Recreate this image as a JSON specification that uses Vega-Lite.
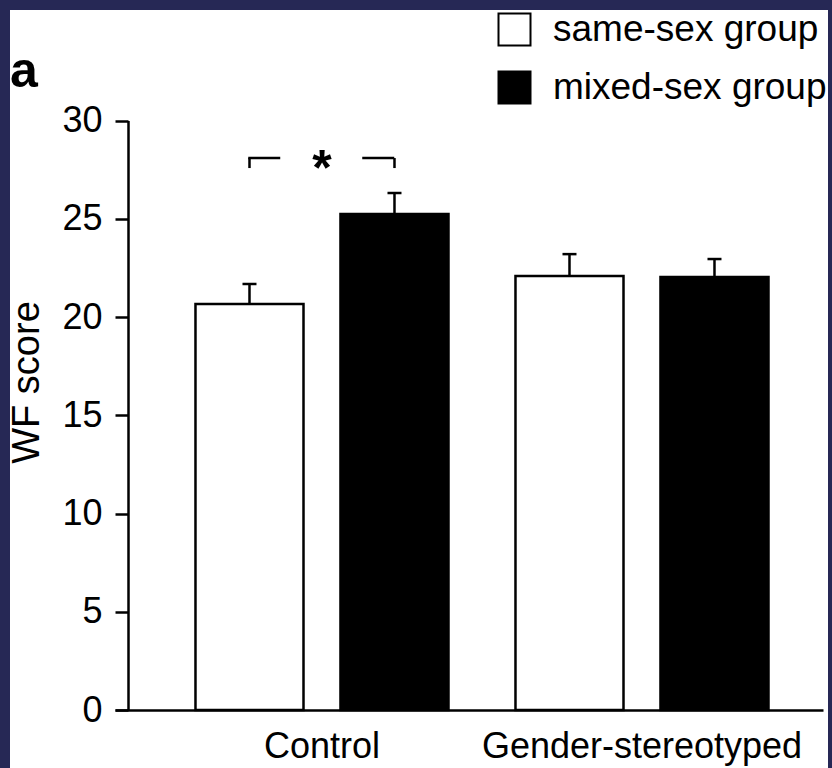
{
  "$schema": "https://vega.github.io/schema/vega-lite/v6.json",
  "width": 818,
  "height": 758,
  "autosize": {"type": "none"},
  "padding": {"left": 10, "top": 10, "right": 4, "bottom": 0},
  "background": "#262855",
  "config": {
    "view": {"fill": "white", "stroke": null},
    "font": "Liberation Sans"
  },
  "title": {
    "text": "a",
    "anchor": "start",
    "frame": "group",
    "fontSize": 50,
    "fontWeight": "bold",
    "color": "black",
    "font": "Liberation Sans",
    "baseline": "alphabetic",
    "offset": 0,
    "dx": 0,
    "dy": 127
  },
  "datasets": {
    "bars": [
      {"condition": "Control", "group": "same-sex group", "mean": 20.66, "upper": 21.68},
      {"condition": "Control", "group": "mixed-sex group", "mean": 25.24, "upper": 26.31},
      {"condition": "Gender-stereotyped", "group": "same-sex group", "mean": 22.09, "upper": 23.2},
      {"condition": "Gender-stereotyped", "group": "mixed-sex group", "mean": 22.04, "upper": 22.95}
    ],
    "bracket": [
      {"condition": "Control", "group": "same-sex group", "side": "L", "top": 28.09, "end": 27.58},
      {"condition": "Control", "group": "mixed-sex group", "side": "R", "top": 28.09, "end": 27.58}
    ],
    "star": [
      {"condition": "Control", "y": 28.09, "label": "*"}
    ]
  },
  "layer": [
    {
      "data": {"name": "bars"},
      "mark": {"type": "bar", "stroke": "black", "strokeWidth": 2.5},
      "encoding": {
        "x": {
          "field": "condition", "type": "nominal",
          "sort": ["Control", "Gender-stereotyped"],
          "scale": {"range": [105, 813], "paddingInner": 0, "paddingOuter": 0.10625, "align": 0.691, "round": false},
          "axis": {
            "title": null, "orient": "bottom", "offset": -58,
            "ticks": false, "tickSize": 0, "labelPadding": 19,
            "labelFontSize": 36, "labelColor": "black", "labelAngle": 0,
            "labelLimit": 0,
            "domainColor": "black", "domainWidth": 2.5, "grid": false
          }
        },
        "xOffset": {
          "field": "group", "type": "nominal",
          "sort": ["same-sex group", "mixed-sex group"],
          "scale": {"paddingInner": 0.255, "paddingOuter": 0.231, "round": false}
        },
        "y": {
          "field": "mean", "type": "quantitative",
          "scale": {"domain": [0, 30], "range": [700, 110.5], "nice": false},
          "axis": {
            "title": "WF score", "offset": -118,
            "values": [0, 5, 10, 15, 20, 25, 30],
            "tickSize": 13, "tickWidth": 2.5, "tickColor": "black",
            "domainWidth": 2.5, "domainColor": "black",
            "labelFontSize": 36, "labelPadding": 13, "labelColor": "black",
            "labelFlush": false, "labelOverlap": false, "grid": false,
            "titleFontSize": 38, "titleFontWeight": "normal", "titleColor": "black",
            "titleX": -90, "titleY": 372, "titleAngle": 270,
            "titleAlign": "center", "titleBaseline": "alphabetic"
          }
        },
        "fill": {
          "field": "group", "type": "nominal",
          "sort": ["same-sex group", "mixed-sex group"],
          "scale": {"domain": ["same-sex group", "mixed-sex group"], "range": ["white", "black"]},
          "legend": {
            "orient": "none", "legendX": 486, "legendY": 1,
            "title": null, "padding": 0,
            "symbolType": "square", "symbolSize": 1024,
            "symbolStrokeColor": "black", "symbolStrokeWidth": 2,
            "labelFontSize": 37, "labelOffset": 20, "labelColor": "black",
            "labelLimit": 0, "rowPadding": 17
          }
        }
      }
    },
    {
      "data": {"name": "bars"},
      "mark": {"type": "rule", "stroke": "black", "strokeWidth": 2.5},
      "encoding": {
        "x": {"field": "condition", "type": "nominal", "sort": ["Control", "Gender-stereotyped"]},
        "xOffset": {"field": "group", "type": "nominal", "sort": ["same-sex group", "mixed-sex group"]},
        "y": {"field": "mean", "type": "quantitative"},
        "y2": {"field": "upper"}
      }
    },
    {
      "data": {"name": "bars"},
      "mark": {"type": "tick", "orient": "horizontal", "size": 14, "thickness": 2.5, "color": "black", "opacity": 1},
      "encoding": {
        "x": {"field": "condition", "type": "nominal", "sort": ["Control", "Gender-stereotyped"]},
        "xOffset": {"field": "group", "type": "nominal", "sort": ["same-sex group", "mixed-sex group"]},
        "y": {"field": "upper", "type": "quantitative"}
      }
    },
    {
      "data": {"name": "bracket"},
      "mark": {"type": "rule", "stroke": "black", "strokeWidth": 2.5},
      "encoding": {
        "x": {"field": "condition", "type": "nominal", "sort": ["Control", "Gender-stereotyped"]},
        "xOffset": {"field": "group", "type": "nominal", "sort": ["same-sex group", "mixed-sex group"]},
        "y": {"field": "top", "type": "quantitative"},
        "y2": {"field": "end"}
      }
    },
    {
      "data": {"name": "bracket"},
      "transform": [{"filter": "datum.side === 'L'"}],
      "mark": {"type": "tick", "orient": "horizontal", "size": 32, "thickness": 2.5, "color": "black", "opacity": 1, "xOffset": -57.75},
      "encoding": {
        "x": {"field": "condition", "type": "nominal", "sort": ["Control", "Gender-stereotyped"]},
        "y": {"field": "top", "type": "quantitative"}
      }
    },
    {
      "data": {"name": "bracket"},
      "transform": [{"filter": "datum.side === 'R'"}],
      "mark": {"type": "tick", "orient": "horizontal", "size": 32, "thickness": 2.5, "color": "black", "opacity": 1, "xOffset": 56.25},
      "encoding": {
        "x": {"field": "condition", "type": "nominal", "sort": ["Control", "Gender-stereotyped"]},
        "y": {"field": "top", "type": "quantitative"}
      }
    },
    {
      "data": {"name": "star"},
      "mark": {"type": "text", "fontSize": 50, "fontWeight": "bold", "color": "black", "align": "center", "baseline": "alphabetic", "dy": 27, "font": "Liberation Sans"},
      "encoding": {
        "x": {"field": "condition", "type": "nominal", "sort": ["Control", "Gender-stereotyped"]},
        "y": {"field": "y", "type": "quantitative"},
        "text": {"field": "label"}
      }
    }
  ]
}
